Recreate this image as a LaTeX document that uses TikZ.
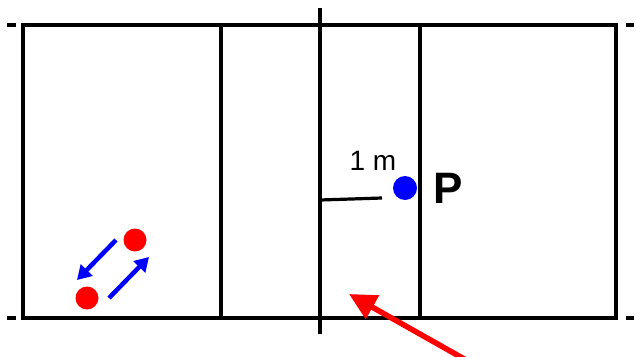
\documentclass[tikz,border=0pt]{standalone}
\usepackage{fontspec}
\setsansfont{Liberation Sans}
\usetikzlibrary{arrows.meta,calc,positioning}
\tikzset{court/.style={line width=3.2pt,line cap=rect},
  ball/.style={circle,fill=red,inner sep=0pt,minimum size=23pt},
  move/.style={blue,line width=4.5pt,-{Triangle[length=14pt,width=16pt]}},
  lbl/.style={font=\sffamily\fontsize{28}{28}\selectfont}}

\begin{document}
\begin{tikzpicture}[x=1pt,y=-1pt,line join=miter]
\useasboundingbox (0,0) rectangle (636,356);
% --- court with attack lines and centre line
\draw[court] (23,25) rectangle (616,318);
\draw[court] (221,25) -- (221,318) (420,25) -- (420,318);
\draw[court] (320,10) -- (320,332);
\foreach \y in {25,318} {\draw[line width=3.2pt] (7,\y) -- (16,\y); \draw[line width=3.2pt] (626,\y) -- (634,\y);}
% --- point P, 1 m from the centre line
\node[ball,fill=blue,minimum size=24pt] (P) at (405,188) {};
\node[font=\sffamily\bfseries\fontsize{44}{44}\selectfont,right=13pt of P] (Plbl) {P};
\coordinate (mid) at (320,200);
\draw[line width=3.2pt] (mid) -- (382,198) coordinate (end);
\node[lbl,above=28pt of end,anchor=base,xshift=-9pt] (dist) {1 m};
% --- two players swapping
\node[ball] (A) at (135,240) {};
\node[ball] (B) at (87,298) {};
\draw[move] ($(A)+(-19,0)$) -- ($(B)+(-10,-18)$);
\draw[move] ($(B)+(22,0)$) -- ($(A)+(14,17)$);
% --- serve direction
\coordinate (srv) at (466,360);
\draw[red,line width=5.5pt,-{Triangle[length=27pt,width=26pt]}] (srv) -- (349,294);
\end{tikzpicture}
\end{document}
